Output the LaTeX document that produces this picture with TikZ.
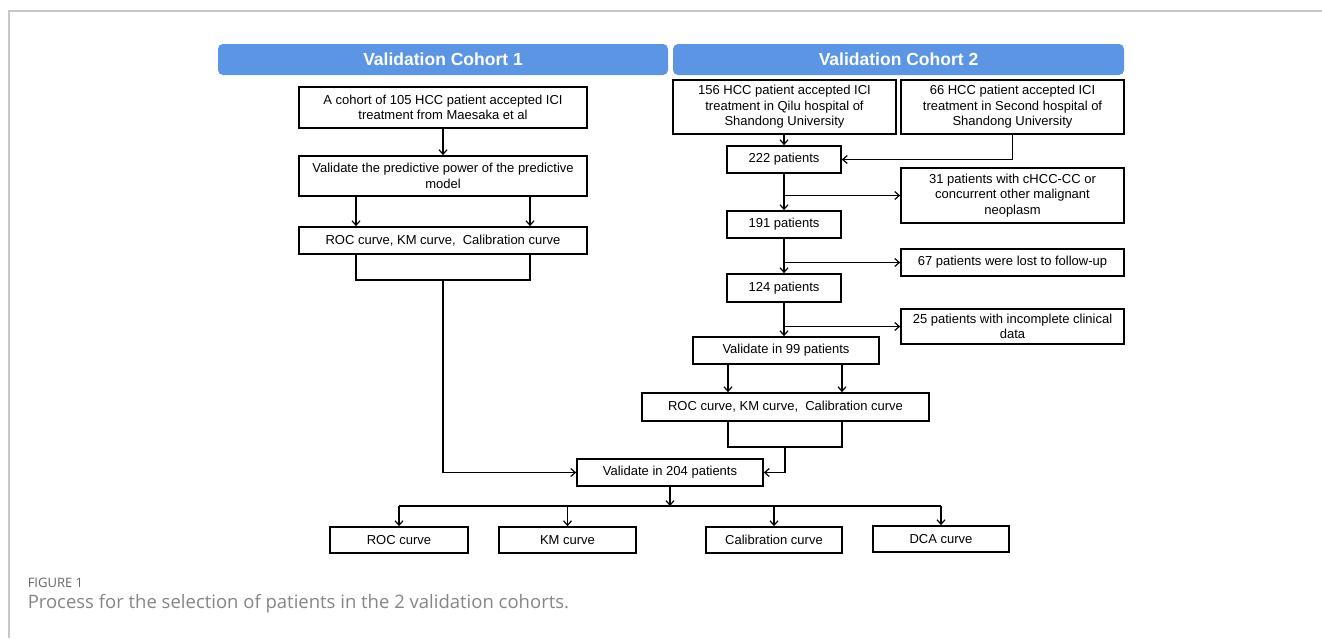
\documentclass[tikz,border=0pt]{standalone}
\usepackage{fontspec}
\setmainfont{Liberation Sans}
\newfontfamily\capfont{Open Sans}
\usetikzlibrary{arrows.meta}
\usetikzlibrary{positioning}
\definecolor{hdrblue}{HTML}{5B95E3}
\definecolor{framegray}{HTML}{C8C8C8}
\definecolor{capgray}{HTML}{858585}
\definecolor{figgray}{HTML}{666666}

\begin{document}
\begin{tikzpicture}[x=1pt,y=-1pt,line width=1.5pt,
	>={Straight Barb[length=4.5pt,width=8pt,line width=1.2pt]},
	blk/.style={draw,line width=1.7pt,inner sep=0pt,align=center,font=\fontsize{13}{15.5}\selectfont},
	hdr/.style={fill=hdrblue,rounded corners=5pt,inner sep=0pt,minimum height=31pt,text=white,font=\fontsize{17.5}{20}\selectfont\bfseries}]
	\useasboundingbox (0,0) rectangle (1322,638);
	\draw[framegray,line width=1.2pt] (1322,11) -- (9,11) -- (9,638);
	% headers
	\node[hdr,minimum width=450pt] (h1) at (443,59.5) {Validation Cohort 1};
	\node[hdr,minimum width=451pt] (h2) at (898.5,59.5) {Validation Cohort 2};
	% cohort 1
	\node[blk,minimum width=288pt,minimum height=41pt] (c1) at (443,107.5) {A cohort of 105 HCC patient accepted ICI\\treatment from Maesaka et al};
	\node[blk,minimum width=288pt,minimum height=40pt] (p1) at (443,176) {Validate the predictive power of the predictive\\model};
	\node[blk,minimum width=288pt,minimum height=27pt] (r1) at (443,240.5) {ROC curve, KM curve,\ \ Calibration curve};
	% cohort 2
	\node[blk,minimum width=223pt,minimum height=54pt] (q) at (784.5,107) {156 HCC patient accepted ICI\\treatment in Qilu hospital of\\Shandong University};
	\node[blk,minimum width=223pt,minimum height=54pt] (s) at (1012.5,107) {66 HCC patient accepted ICI\\treatment in Second hospital of\\Shandong University};
	\node[blk,minimum width=114pt,minimum height=27pt] (n222) at (784,159.5) {222 patients};
	\node[blk,minimum width=223pt,minimum height=55pt] (e31) at (1012.5,195.5) {31 patients with cHCC-CC or\\concurrent other malignant\\neoplasm};
	\node[blk,minimum width=114pt,minimum height=27pt] (n191) at (784,224.5) {191 patients};
	\node[blk,minimum width=223pt,minimum height=27pt] (e67) at (1012.5,262.5) {67 patients were lost to follow-up};
	\node[blk,minimum width=114pt,minimum height=28pt] (n124) at (784,288) {124 patients};
	\node[blk,minimum width=223pt,minimum height=35pt] (e25) at (1012.5,326.5) {25 patients with incomplete clinical\\data};
	\node[blk,minimum width=186pt,minimum height=27pt] (v99) at (786,350.5) {Validate in 99 patients};
	\node[blk,minimum width=287pt,minimum height=28pt] (r2) at (785.5,407) {ROC curve, KM curve,\ \ Calibration curve};
	% merged
	\node[blk,minimum width=186pt,minimum height=27pt] (v204) at (670,472.5) {Validate in 204 patients};
	\node[blk,minimum width=138pt,minimum height=26pt] (b1) at (399,540) {ROC curve};
	\node[blk,minimum width=137pt,minimum height=26pt] (b2) at (567.5,540) {KM curve};
	\node[blk,minimum width=136pt,minimum height=26pt] (b3) at (774,540) {Calibration curve};
	\node[blk,minimum width=136pt,minimum height=26pt] (b4) at (941,539) {DCA curve};
	\coordinate (k1) at (443,280);
	\coordinate (k2) at (785,447);
	\coordinate (bus) at (670,506);
	% caption
	\node[anchor=west,inner sep=0pt,text=figgray,font=\capfont\fontsize{13}{15}\selectfont] (fig) at (27,583) {FIGURE 1};
	\node[anchor=west,inner sep=0pt,text=capgray,font=\capfont\fontsize{18.5}{21}\selectfont] (cap) at (27,604) {Process for the selection of patients in the 2 validation cohorts.};
	% cohort 1 arrows
	\draw [->] (c1) to (p1);
	\draw [->] ([xshift=-87pt]p1.south) to ([xshift=-87pt]r1.north);
	\draw [->] ([xshift=87pt]p1.south) to ([xshift=87pt]r1.north);
	\draw ([xshift=-87pt]r1.south) |- (k1) -| ([xshift=87pt]r1.south);
	\draw [->] (k1) |- (v204);
	% cohort 2 arrows
	\draw [->] (n222.north |- q.south) to (n222.north);
	\draw [->] (s.south) |- (n222);
	\draw [->] (n222) to (n191);
	\draw [->] (n222.south |- e31) to (e31);
	\draw [->] (n191) to (n124);
	\draw [->] (n191.south |- e67) to (e67);
	\draw [->] (n124.south) to (n124.south |- v99.north);
	\draw [->] (n124.south |- e25) to (e25);
	\draw [->] ([xshift=-58pt]v99.south) to ([xshift=-58pt]v99.south |- r2.north);
	\draw [->] ([xshift=56pt]v99.south) to ([xshift=56pt]v99.south |- r2.north);
	\draw ([xshift=-58pt]v99.south |- r2.south) |- (k2) -| ([xshift=56pt]v99.south |- r2.south);
	\draw [->] (k2) |- (v204);
	% outcomes
	\draw [->] (v204) to (bus);
	\draw (b1 |- bus) to (b4 |- bus);
	\foreach \b in {b1,b2,b3,b4}
		\draw [->] (\b |- bus) to (\b);
\end{tikzpicture}
\end{document}
